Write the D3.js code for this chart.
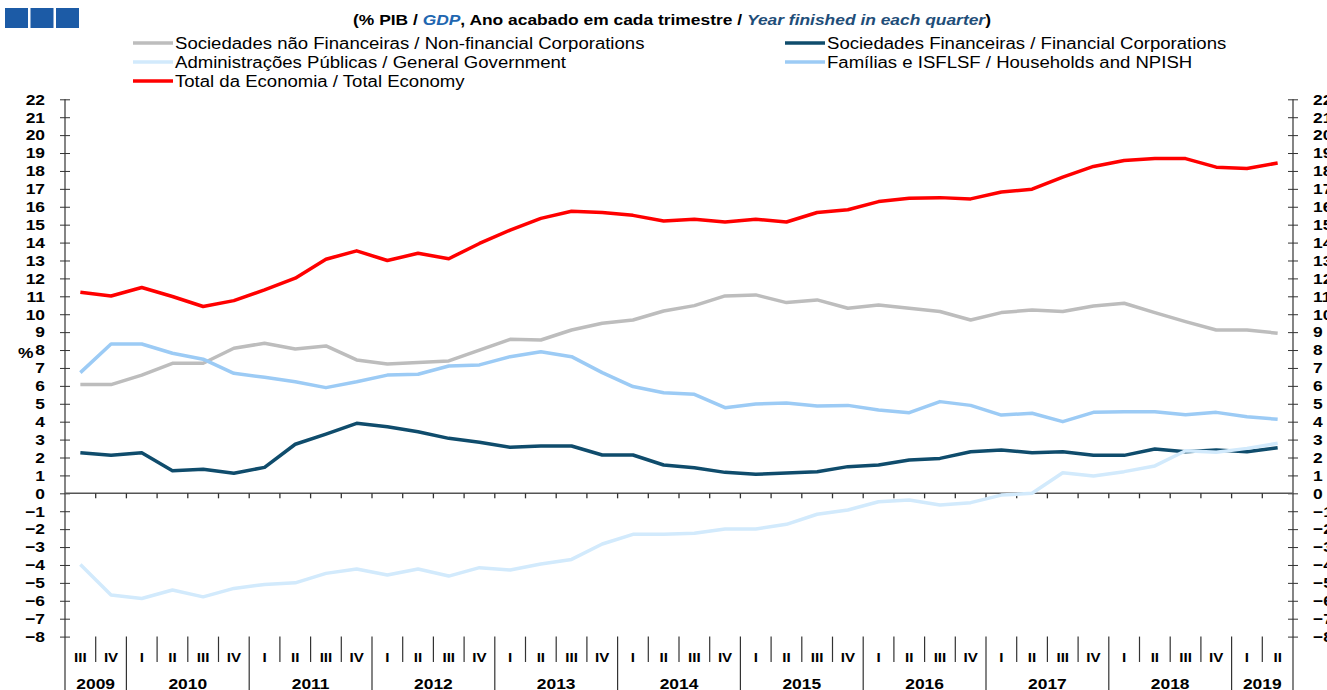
<!DOCTYPE html>
<html lang="en">
<head>
<meta charset="utf-8">
<title>Poupança por setor institucional</title>
<script src="https://cdn.jsdelivr.net/npm/d3@7"></script>
<style>
  body { margin: 0; background: #fff; }
  svg { display: block; font-family: "Liberation Sans", Arial, sans-serif; }
</style>
</head>
<body>
<svg id="chart" width="1327" height="690"></svg>
<script>
// quarters shown on the x axis (year + roman quarter)
var periods = [
  "2009 III", "2009 IV",
  "2010 I", "2010 II", "2010 III", "2010 IV",
  "2011 I", "2011 II", "2011 III", "2011 IV",
  "2012 I", "2012 II", "2012 III", "2012 IV",
  "2013 I", "2013 II", "2013 III", "2013 IV",
  "2014 I", "2014 II", "2014 III", "2014 IV",
  "2015 I", "2015 II", "2015 III", "2015 IV",
  "2016 I", "2016 II", "2016 III", "2016 IV",
  "2017 I", "2017 II", "2017 III", "2017 IV",
  "2018 I", "2018 II", "2018 III", "2018 IV",
  "2019 I", "2019 II"
];

// % of GDP, year finished in each quarter
var nonFinancial = [6.07, 6.07, 6.6, 7.26, 7.26, 8.1, 8.38, 8.06, 8.23, 7.45,
                    7.22, 7.3, 7.39, 8.0, 8.6, 8.56, 9.12, 9.5, 9.68, 10.18,
                    10.48, 11.02, 11.08, 10.65, 10.8, 10.33, 10.52, 10.33, 10.15, 9.68,
                    10.09, 10.24, 10.15, 10.46, 10.61, 10.09, 9.59, 9.12, 9.12, 8.94];
var financial    = [2.27, 2.12, 2.27, 1.26, 1.34, 1.12, 1.45, 2.74, 3.31, 3.91,
                    3.72, 3.44, 3.07, 2.85, 2.57, 2.64, 2.64, 2.14, 2.14, 1.58,
                    1.43, 1.17, 1.06, 1.13, 1.21, 1.49, 1.58, 1.86, 1.95, 2.32,
                    2.42, 2.27, 2.32, 2.12, 2.12, 2.47, 2.32, 2.42, 2.32, 2.55];
var government   = [-3.97, -5.68, -5.87, -5.4, -5.78, -5.31, -5.09, -5.0, -4.47, -4.23,
                    -4.56, -4.23, -4.62, -4.15, -4.28, -3.95, -3.69, -2.83, -2.29, -2.29,
                    -2.23, -1.99, -1.99, -1.73, -1.17, -0.93, -0.47, -0.37, -0.65, -0.52,
                    -0.1, 0.0, 1.15, 0.97, 1.21, 1.53, 2.38, 2.29, 2.51, 2.79];
var households   = [6.74, 8.34, 8.34, 7.82, 7.49, 6.7, 6.48, 6.23, 5.9, 6.23,
                    6.6, 6.65, 7.11, 7.17, 7.63, 7.91, 7.63, 6.74, 5.96, 5.62,
                    5.53, 4.78, 4.99, 5.04, 4.88, 4.91, 4.65, 4.5, 5.12, 4.91,
                    4.37, 4.47, 4.0, 4.52, 4.56, 4.56, 4.39, 4.52, 4.28, 4.13];
var total        = [11.23, 11.02, 11.49, 10.99, 10.43, 10.76, 11.36, 12.01, 13.07, 13.54,
                    13.0, 13.4, 13.1, 13.95, 14.7, 15.35, 15.75, 15.68, 15.52, 15.2,
                    15.3, 15.15, 15.3, 15.15, 15.68, 15.83, 16.29, 16.48, 16.51, 16.44,
                    16.82, 16.98, 17.65, 18.25, 18.58, 18.69, 18.69, 18.21, 18.14, 18.44];

var yTicks = d3.range(-8, 23);

var legendNames = [
  "Sociedades não Financeiras / Non-financial Corporations",
  "Sociedades Financeiras / Financial Corporations",
  "Administrações Públicas / General Government",
  "Famílias e ISFLSF / Households and NPISH",
  "Total da Economia / Total Economy"
];

var colors = ["#bdbdbd", "#0f4c6c", "#d2eafc", "#9ccbf5", "#ff0000"];
var seriesValues = [nonFinancial, financial, government, households, total];

var svg = d3.select("#chart");

var plotLeft = 65, plotRight = 1293, plotTop = 99.3, plotBottom = 636.6;
var stretch = 1.16; // the source picture is a bit wider than tall

var x = d3.scaleBand().domain(periods).range([plotLeft, plotRight]);
var y = d3.scaleLinear().domain([-8, 22]).range([plotBottom, plotTop]);
var bw = x.bandwidth();

// widen text horizontally like the original
function widen(sel) {
  sel.each(function() {
    var w = this.getComputedTextLength();
    d3.select(this).attr("textLength", w * stretch).attr("lengthAdjust", "spacingAndGlyphs");
  });
}

// logo squares
svg.append("g").selectAll("rect")
  .data([0, 1, 2])
  .enter().append("rect")
  .attr("x", function(d) { return 5 + d * 25.5; })
  .attr("y", 8)
  .attr("width", 23)
  .attr("height", 20)
  .attr("fill", "#1c5ba6");

// title
var title = svg.append("text")
  .attr("x", 672).attr("y", 25)
  .attr("text-anchor", "middle")
  .attr("font-size", 15).attr("font-weight", "bold");
title.append("tspan").text("(% PIB / ");
title.append("tspan").attr("font-style", "italic").attr("fill", "#2166b0").text("GDP");
title.append("tspan").text(", Ano acabado em cada trimestre / ");
title.append("tspan").attr("font-style", "italic").attr("fill", "#1f4e79").text("Year finished in each quarter");
title.append("tspan").text(")");
widen(title);

// legend
var legendPos = [[133, 43], [785, 43], [133, 62], [785, 62], [133, 81]];
var legend = svg.append("g").selectAll("g")
  .data(legendNames)
  .enter().append("g")
  .attr("transform", function(d, i) { return "translate(" + legendPos[i][0] + "," + legendPos[i][1] + ")"; });
legend.append("line")
  .attr("x1", 0).attr("x2", 40)
  .attr("stroke", function(d, i) { return colors[i]; })
  .attr("stroke-width", 3.5);
legend.append("text")
  .attr("x", 42).attr("dy", "0.36em")
  .attr("font-size", 16)
  .text(function(d) { return d; })
  .call(widen);

// y axes, ticks crossing the line
var yLeft = svg.append("g")
  .attr("transform", "translate(" + plotLeft + ",0)")
  .call(d3.axisLeft(y).tickValues(yTicks).tickSize(5).tickPadding(15));
yLeft.selectAll(".tick line").attr("x2", 5).attr("x1", -5);

var yRight = svg.append("g")
  .attr("transform", "translate(" + plotRight + ",0)")
  .call(d3.axisRight(y).tickValues(yTicks).tickSize(5).tickPadding(15));
yRight.selectAll(".tick line").attr("x1", -5).attr("x2", 5);

svg.selectAll(".domain").remove();
svg.selectAll(".tick text")
  .attr("font-size", 15).attr("font-weight", "bold")
  .attr("font-family", "Liberation Sans, Arial, sans-serif").attr("fill", "#000")
  .call(widen);
svg.selectAll(".tick line").attr("stroke", "#333");

[plotLeft, plotRight].forEach(function(xx) {
  svg.append("line")
    .attr("x1", xx).attr("x2", xx)
    .attr("y1", plotTop).attr("y2", 690)
    .attr("stroke", "#333").attr("stroke-width", 1.2);
});

svg.append("text")
  .attr("x", 18).attr("y", 358)
  .attr("font-size", 15).attr("font-weight", "bold")
  .text("%")
  .call(widen);

// zero line with small ticks at quarter boundaries
svg.append("line")
  .attr("x1", plotLeft).attr("x2", plotRight)
  .attr("y1", y(0)).attr("y2", y(0))
  .attr("stroke", "#555").attr("stroke-width", 1.5);
svg.append("g").selectAll("line")
  .data(periods.slice(1))
  .enter().append("line")
  .attr("x1", function(d) { return x(d); })
  .attr("x2", function(d) { return x(d); })
  .attr("y1", y(0)).attr("y2", y(0) + 5)
  .attr("stroke", "#333").attr("stroke-width", 1.3);

// category axis at the bottom: quarters and years
svg.append("g").selectAll("line")
  .data(periods.slice(1))
  .enter().append("line")
  .attr("x1", function(d) { return x(d); })
  .attr("x2", function(d) { return x(d); })
  .attr("y1", plotBottom)
  .attr("y2", function(d) { return d.split(" ")[1] === "I" ? 690 : 662; })
  .attr("stroke", "#333").attr("stroke-width", 1.2);

svg.append("g").selectAll("text")
  .data(periods)
  .enter().append("text")
  .attr("x", function(d) { return x(d) + bw / 2; })
  .attr("y", 662)
  .attr("text-anchor", "middle")
  .attr("font-size", 13).attr("font-weight", "bold")
  .text(function(d) { return d.split(" ")[1]; })
  .call(widen);

var years = d3.groups(periods, function(d) { return d.split(" ")[0]; });
svg.append("g").selectAll("text")
  .data(years)
  .enter().append("text")
  .attr("x", function(d) {
    var a = x(d[1][0]), b = x(d[1][d[1].length - 1]) + bw;
    return (a + b) / 2;
  })
  .attr("y", 689)
  .attr("text-anchor", "middle")
  .attr("font-size", 15).attr("font-weight", "bold")
  .text(function(d) { return d[0]; })
  .call(widen);

// lines
var line = d3.line()
  .x(function(d, i) { return x(periods[i]) + bw / 2; })
  .y(function(d) { return y(d); });

svg.append("g").selectAll("path")
  .data(seriesValues)
  .enter().append("path")
  .attr("d", line)
  .attr("fill", "none")
  .attr("stroke", function(d, i) { return colors[i]; })
  .attr("stroke-width", 3.5)
  .attr("stroke-linejoin", "round");
</script>
</body>
</html>
